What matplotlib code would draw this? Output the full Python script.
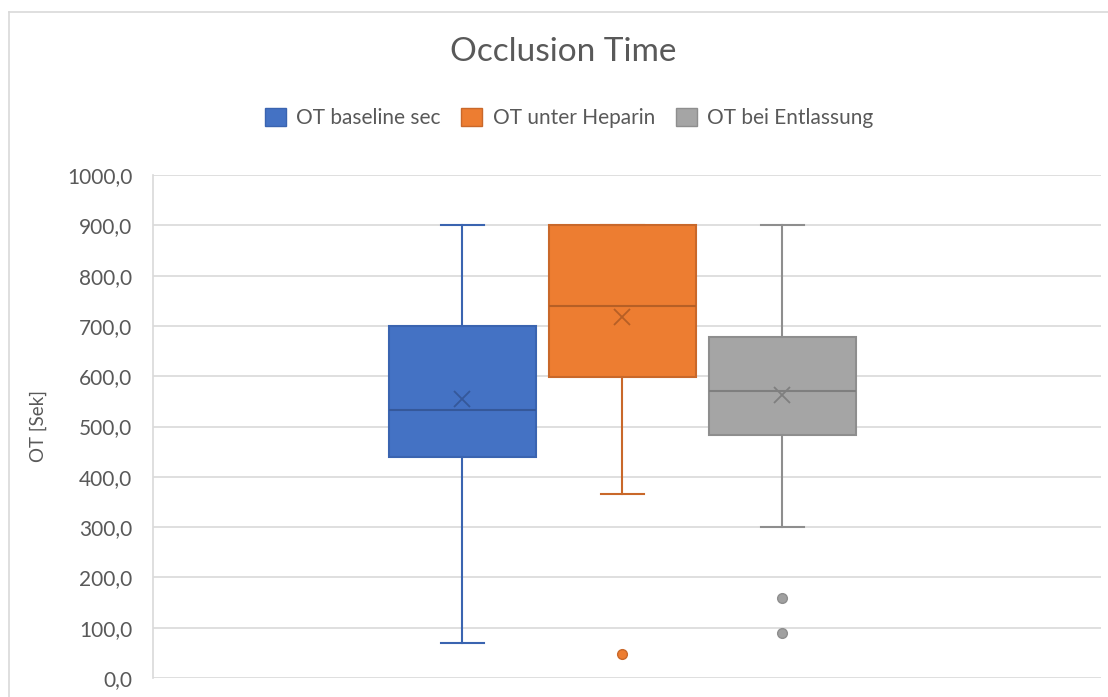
import matplotlib
matplotlib.use("Agg")
import matplotlib.pyplot as plt
from matplotlib.patches import Patch
from matplotlib.lines import Line2D

plt.rcParams['font.family'] = ['Lato', 'DejaVu Sans']

series = ["OT baseline sec", "OT unter Heparin", "OT bei Entlassung"]
whislo = [70, 366, 300]
q1 = [440, 598, 484]
med = [532, 740, 570]
q3 = [700, 900, 677]
whishi = [900, 900, 900]
means = [554, 717, 563]
fliers = [[], [47], [160, 90]]

fill_colors = ["#4472C4", "#ED7D31", "#A5A5A5"]
edge_colors = ["#3A64B0", "#C9682A", "#8E8E8E"]
dark_colors = ["#35589A", "#B65F25", "#7F7F7F"]

yticks = [0, 100, 200, 300, 400, 500, 600, 700, 800, 900, 1000]
text_color = "#595959"
grid_color = "#D9D9D9"

W, H = 1108, 697
fig = plt.figure(figsize=(W / 100, H / 100), dpi=100)
ax = fig.add_axes([153 / W, (H - 678) / H, (1101 - 153) / W, (678 - 175) / H])

positions = [-1, 0, 1]
width = 0.919
for i in range(3):
    stats = [dict(whislo=whislo[i], q1=q1[i], med=med[i], q3=q3[i],
                  whishi=whishi[i], mean=means[i], fliers=fliers[i])]
    ax.bxp(stats, positions=[positions[i]], widths=width, patch_artist=True,
           showmeans=True, meanline=False, capwidths=0.27,
           boxprops=dict(facecolor=fill_colors[i], edgecolor=edge_colors[i], linewidth=1.5),
           medianprops=dict(color=dark_colors[i], linewidth=1.5),
           whiskerprops=dict(color=edge_colors[i], linewidth=1.5),
           capprops=dict(color=edge_colors[i], linewidth=1.5),
           meanprops=dict(marker='x', markeredgecolor=dark_colors[i], markersize=11,
                          markeredgewidth=1.3),
           flierprops=dict(marker='o', markerfacecolor=fill_colors[i] if i != 2 else "#A0A0A0",
                           markeredgecolor=edge_colors[i], markersize=7, markeredgewidth=1),
           zorder=3)

ax.set_xlim(-2.934, 2.991)
ax.set_ylim(0, 1000)
ax.set_yticks(yticks)
ax.set_yticklabels([f"{v},0" for v in yticks], fontsize=15, color=text_color)
ax.set_xticks([])
ax.grid(axis='y', color=grid_color, linewidth=1.2, zorder=0)
ax.set_axisbelow(True)
for s in ['top', 'right', 'bottom']:
    ax.spines[s].set_visible(False)
ax.spines['left'].set_color(grid_color)
ax.spines['left'].set_linewidth(1.2)
ax.tick_params(axis='y', length=0, pad=15)
ax.set_ylabel("OT [Sek]", fontsize=13.5, color=text_color, labelpad=14)

fig.text(563 / W, 1 - 52 / H, "Occlusion Time", ha='center', va='center',
         fontsize=24, color=text_color)

handles = [Patch(facecolor=fill_colors[i], edgecolor=edge_colors[i], linewidth=1)
           for i in range(3)]
leg = fig.legend(handles, series, loc='center', bbox_to_anchor=(569 / W, 1 - 118 / H),
                 ncol=3, frameon=False, fontsize=15, handlelength=1.0, handleheight=1.0,
                 handletextpad=0.5, columnspacing=1.0)
for t in leg.get_texts():
    t.set_color(text_color)

# chart border (left and top edges visible)
fig.add_artist(Line2D([9 / W, 9 / W], [0, 1 - 12 / H], color=grid_color, linewidth=1.2))
fig.add_artist(Line2D([9 / W, 1], [1 - 12 / H, 1 - 12 / H], color=grid_color, linewidth=1.2))

fig.savefig("out.png", dpi=100)
